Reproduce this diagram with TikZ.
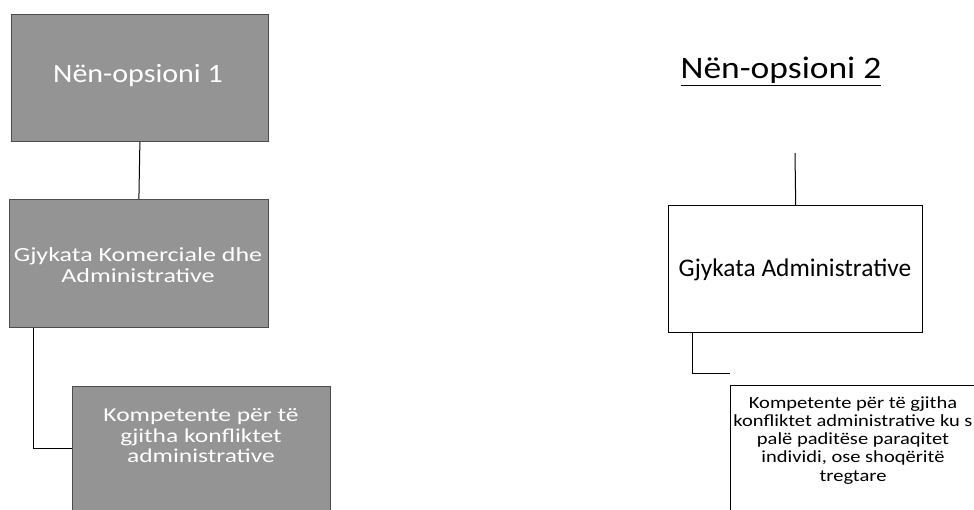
\documentclass[tikz,border=0pt]{standalone}
\usepackage{fontspec}
\usepackage{graphicx}
\setmainfont{Carlito}
\newcommand\vsq[2]{\scalebox{1}[#1]{\begin{tabular}{@{}c@{}}#2\end{tabular}}}
\begin{document}
\begin{tikzpicture}[x=1pt,y=-1pt,
  graybox/.style={draw=black!70,line width=0.8pt,fill=black!42},
  whitebox/.style={draw=black,line width=1.4pt,fill=white},
  link/.style={draw=black,line width=1pt},
  wtext/.style={text=white,align=center,inner sep=0pt},
  btext/.style={text=black,align=center,inner sep=0pt}]
\useasboundingbox (0,0) rectangle (974,509);
\clip (0,0) rectangle (974,509);
% left side
\node[graybox,minimum width=257pt,minimum height=127pt,anchor=north west] (b1) at (11,14) {};
\node[wtext,font=\fontsize{30}{32}\selectfont] (t1) at (138,77) {\vsq{0.88}{Nën-opsioni 1}};
\node[graybox,minimum width=259pt,minimum height=128pt,anchor=north west] (b2) at (9,199) {};
\node[wtext,font=\fontsize{26}{26}\selectfont] (t2) at (138,268) {\vsq{0.77}{Gjykata Komerciale dhe\\Administrative}};
\node[graybox,minimum width=258pt,minimum height=140pt,anchor=north west] (b3) at (72,386) {};
\node[wtext,font=\fontsize{25.5}{26}\selectfont] (t3) at (201,438) {\vsq{0.77}{Kompetente për të\\gjitha konfliktet\\administrative}};
\coordinate (c1) at (33,448);
\draw[link] (b1.south) -- (b2.north);
\draw[link] (b2.south west -| c1) -- (c1) -- (c1 -| b3.west);
% right side
\node[btext,font=\fontsize{35.5}{38}\selectfont] (h2) at (781,72) {\vsq{0.88}{\underline{Nën-opsioni 2}}};
\coordinate (c2) at (795,153);
\node[whitebox,minimum width=254pt,minimum height=127pt,anchor=north west] (b4) at (668,205) {};
\node[btext,font=\fontsize{25.4}{28}\selectfont] (t4) at (795,270) {Gjykata Administrative};
\node[whitebox,minimum width=270pt,minimum height=150pt,anchor=north west] (b5) at (730,385) {};
\node[btext,font=\fontsize{20.5}{22}\selectfont] (t5) at (853,441) {\vsq{0.83}{Kompetente për të gjitha\\konfliktet administrative ku s\\palë paditëse paraqitet\\individi, ose shoqëritë\\tregtare}};
\coordinate (c3) at (692,373);
\draw[link] (c2) -- (b4.north);
\draw[link] (b4.south west -| c3) -- (c3) -- (c3 -| b5.west);
\end{tikzpicture}
\end{document}
